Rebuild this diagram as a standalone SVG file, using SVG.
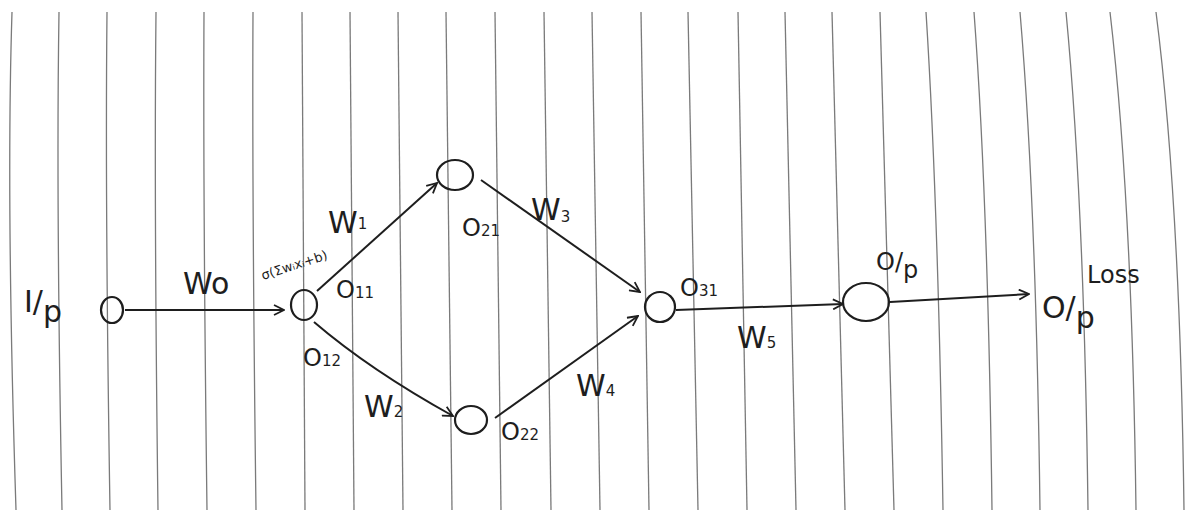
<svg xmlns="http://www.w3.org/2000/svg" width="1187" height="510" viewBox="0 0 1187 510">
<defs>
<style>
.rule{fill:none;stroke:#7a7a7a;stroke-width:1.3}
.nd{fill:none;stroke:#1e1e1e;stroke-width:2.2}
.cn{fill:none;stroke:#1e1e1e;stroke-width:2;marker-end:url(#arr)}
.t{font-family:"DejaVu Sans","Liberation Sans",sans-serif;fill:#1e1e1e}
.big{font-size:30px}
.lab{font-size:24px}
.sub{font-size:15px}
</style>
<marker id="arr" viewBox="0 0 12 12" refX="11" refY="6" markerWidth="12" markerHeight="12" markerUnits="userSpaceOnUse" orient="auto">
<path d="M1,1 L11,6 L1,11" fill="none" stroke="#1e1e1e" stroke-width="1.8"/>
</marker>
</defs>
<rect width="1187" height="510" fill="#ffffff"/>
<g id="ruled-lines">
<path class="rule" d="M12,12 Q6,200 16,510"/>
<path class="rule" d="M59,12 Q56,200 62,510"/>
<path class="rule" d="M107,12 Q105,200 110,510"/>
<path class="rule" d="M156,12 Q154,200 158,510"/>
<path class="rule" d="M204,12 Q203,200 207,510"/>
<path class="rule" d="M253,12 Q252,200 256,510"/>
<path class="rule" d="M302,12 L305,510"/>
<path class="rule" d="M350,12 L354,510"/>
<path class="rule" d="M398,12 L403,510"/>
<path class="rule" d="M446,12 L452,510"/>
<path class="rule" d="M495,12 L501,510"/>
<path class="rule" d="M544,12 L551,510"/>
<path class="rule" d="M592,12 L600,510"/>
<path class="rule" d="M641,12 L649,510"/>
<path class="rule" d="M688,12 L698,510"/>
<path class="rule" d="M738,12 L747,510"/>
<path class="rule" d="M785,12 L796,510"/>
<path class="rule" d="M832,12 L845,510"/>
<path class="rule" d="M880,12 L894,510"/>
<path class="rule" d="M926,12 Q938,200 943,510"/>
<path class="rule" d="M974,12 Q988,200 992,510"/>
<path class="rule" d="M1020,12 Q1036,200 1040,510"/>
<path class="rule" d="M1066,12 Q1084,200 1088,510"/>
<path class="rule" d="M1110,12 Q1132,200 1136,510"/>
<path class="rule" d="M1156,12 Q1180,200 1184,510"/>
</g>
<g id="connectors">
<path class="cn" d="M125,310 L284,310"/>
<path class="cn" d="M317,291 L437,183"/>
<path class="cn" d="M314,322 Q370,370 453,416"/>
<path class="cn" d="M481,180 L640,292"/>
<path class="cn" d="M495,418 L638,316"/>
<path class="cn" d="M676,310 L843,304"/>
<path class="cn" d="M890,302 L1029,294"/>
<text class="t big" x="183" y="294">Wo</text>
<text class="t big" x="328" y="233">W<tspan class="sub" dy="-4">1</tspan></text>
<text class="t big" x="531" y="220">W<tspan class="sub" dy="2">3</tspan></text>
<text class="t big" x="364" y="417">W<tspan class="sub">2</tspan></text>
<text class="t big" x="576" y="396">W<tspan class="sub">4</tspan></text>
<text class="t big" x="737" y="348">W<tspan class="sub">5</tspan></text>
</g>
<g id="node-input">
<text class="t big" x="24" y="312">I/<tspan dy="10">p</tspan></text>
<ellipse class="nd" cx="112" cy="310" rx="11" ry="13"/>
</g>
<g id="node-o11">
<ellipse class="nd" cx="304" cy="305" rx="13" ry="15"/>
<text class="t" font-size="13" transform="translate(263,280) rotate(-18)">σ(Σwᵢxᵢ+b)</text>
<text class="t lab" x="336" y="298">O<tspan class="sub">11</tspan></text>
<text class="t lab" x="303" y="366">O<tspan class="sub">12</tspan></text>
</g>
<g id="node-o21">
<ellipse class="nd" cx="455" cy="175" rx="18" ry="15"/>
<text class="t lab" x="462" y="236">O<tspan class="sub">21</tspan></text>
</g>
<g id="node-o22">
<ellipse class="nd" cx="471" cy="420" rx="16" ry="14"/>
<text class="t lab" x="501" y="440">O<tspan class="sub">22</tspan></text>
</g>
<g id="node-o31">
<ellipse class="nd" cx="660" cy="307" rx="15" ry="15"/>
<text class="t lab" x="680" y="296">O<tspan class="sub">31</tspan></text>
</g>
<g id="node-output">
<ellipse class="nd" cx="866" cy="302" rx="23" ry="19"/>
<text class="t lab" x="876" y="270">O/<tspan dy="8">p</tspan></text>
</g>
<g id="node-loss">
<text class="t big" x="1042" y="318">O/<tspan dy="10">p</tspan></text>
<text class="t lab" x="1087" y="283">Loss</text>
</g>
</svg>
